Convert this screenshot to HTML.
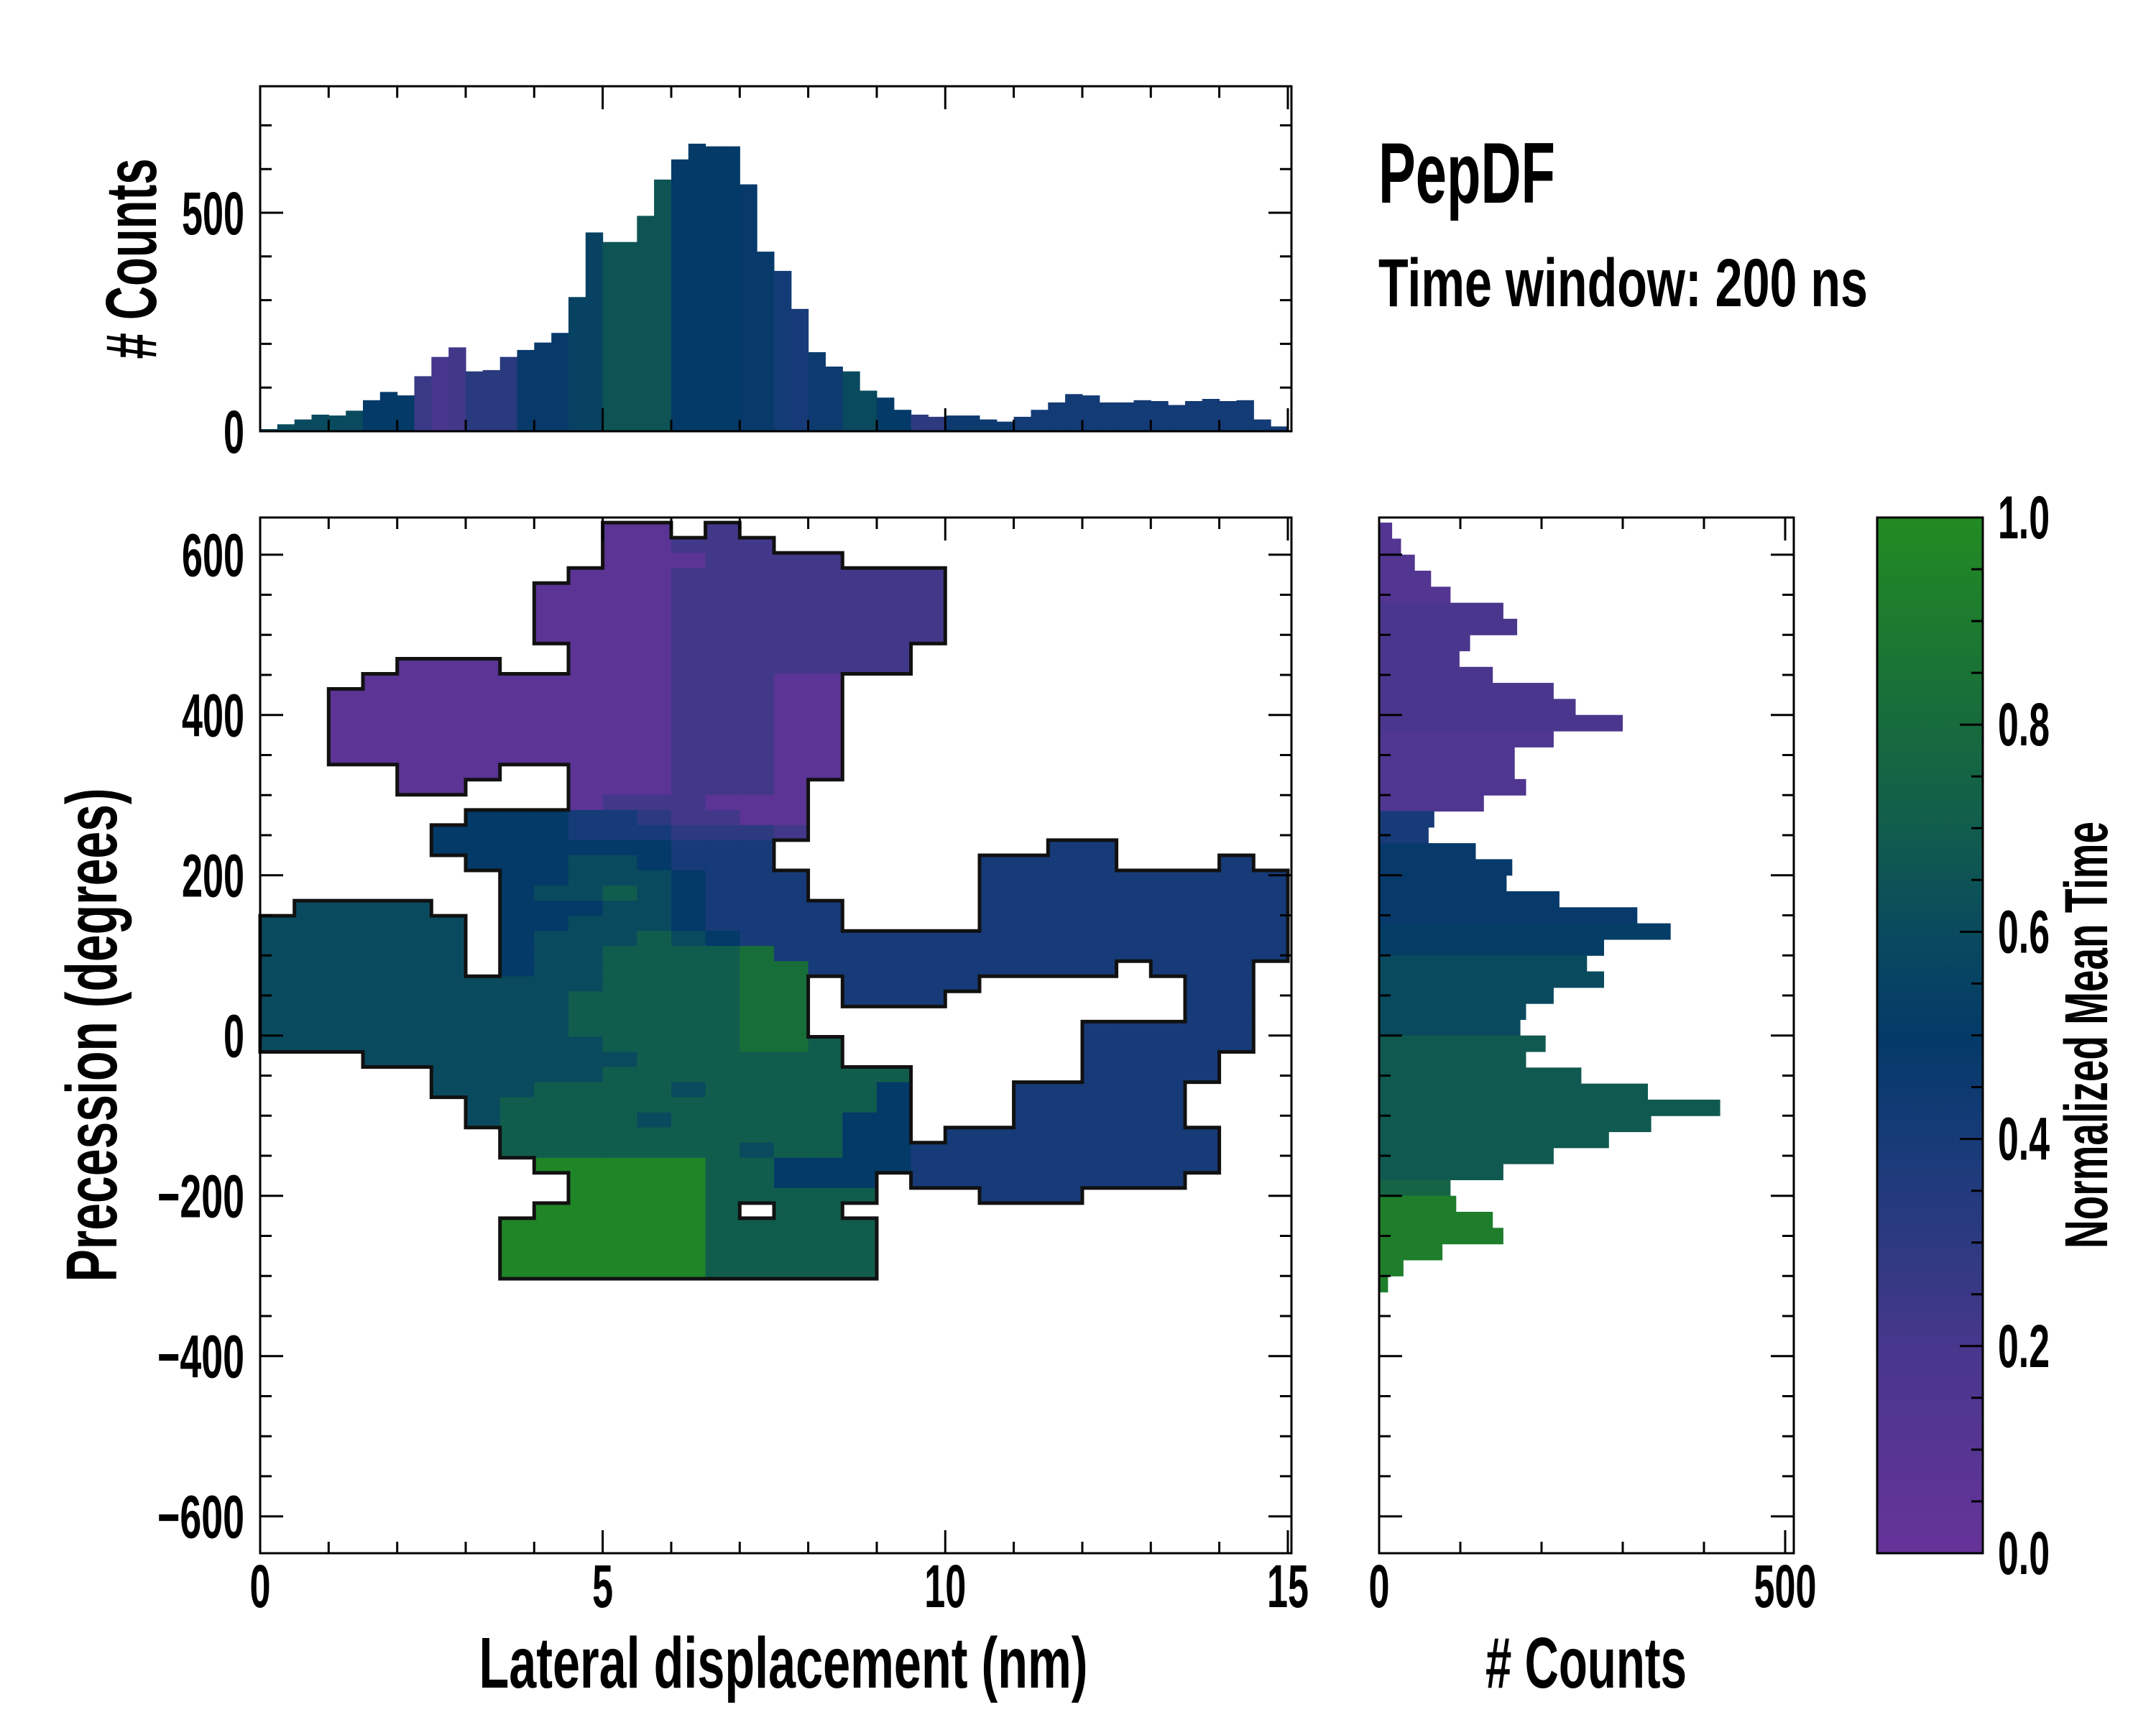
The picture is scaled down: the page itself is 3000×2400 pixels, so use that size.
<!DOCTYPE html>
<html><head><meta charset="utf-8"><style>
html,body{margin:0;padding:0;background:#fff}
svg{display:block}
text{font-family:"Liberation Sans Narrow","Liberation Sans",sans-serif;font-weight:bold;fill:#000}
</style></head><body>
<svg id="fig" width="3000" height="2400" viewBox="0 0 3000 2400" xmlns="http://www.w3.org/2000/svg">
<defs>
<linearGradient id="cbgrad" x1="0" y1="1" x2="0" y2="0"></linearGradient>
<clipPath id="mainclip"><rect x="362" y="720" width="1435" height="1441"/></clipPath>
</defs>
<rect width="3000" height="2400" fill="#fff"/>
<g id="heat" clip-path="url(#mainclip)"></g>
<path id="outline" fill="none" stroke="#111" stroke-width="5" stroke-linecap="square"/>
<g id="tophist"></g>
<g id="righthist"></g>
<g id="axes"></g>
<g id="labels"></g>
</svg>
<script>
// ---- data ----
const heatRows = [
"..........11.2................",
"..........11222...............",
"..........1112222.............",
".........11122222222..........",
"........111122222222..........",
"........111122222222..........",
"........111122222222..........",
"........111122222222..........",
".........1112222222...........",
"....111..1112222222...........",
"...11111111122211.............",
"..111111111122211.............",
"..111111111122211.............",
"..111111111122211.............",
"..111111111122211.............",
"..111111111122211.............",
"....111..11122211.............",
"....11...1112221..............",
".........1222111..............",
"......5554432211..............",
".....55554443332..............",
".....5555555444........44.....",
"......555665444......4444...4.",
".......556665444.....444444444",
".......566765444.....444444444",
".6666..5556654444....444444444",
"666666." + "55" + "6665" + "4444" + "...." + "444444444",
"666666." + "56" + "6676" + "5444" + "4444" + "444444444",
"666666." + "56" + "6777" + "7844" + "4444" + "444444444",
"666666." + "56" + "6777" + "7884" + "4444" + "4444" + "." + "444" + ".",
"6666666" + "66" + "6777" + "788" + "." + "4444" + "......" + "44" + ".",
"6666666" + "66" + "7777" + "788" + "." + "444" + "......." + "44" + ".",
"6666666" + "66" + "7777" + "788" + "..........." + "44" + ".",
"6666666" + "66" + "7777" + "788" + "........" + "44444" + ".",
"6666666" + "66" + "6777" + "7887" + "......." + "44444" + ".",
"..." + "6666" + "66" + "6677" + "7777" + "......." + "4444" + "..",
"....." + "66" + "66" + "6777" + "7777" + "77" + "....." + "4444" + "..",
"....." + "66" + "67" + "7776" + "7777" + "75" + "..." + "44444" + "...",
"......" + "6" + "77" + "7777" + "7777" + "75" + "..." + "44444" + "...",
"......" + "6" + "77" + "7767" + "7777" + "55" + "..." + "44444" + "...",
"......." + "77" + "7777" + "7777" + "55" + "." + "44444444" + "..",
"......." + "77" + "7777" + "7677" + "55" + "4" + "44444444" + "..",
"........" + "9" + "9999" + "7755" + "55" + "4" + "44444444" + "..",
"........." + "9999" + "7755" + "5" + "." + "44444444" + "...",
"........." + "9999" + "7777" + "7" + "..." + "444" + "......",
"........" + "99999" + "7.77" + ".............",
"......." + "999999" + "77777" + "............",
"......." + "999999" + "77777" + "............",
"......." + "999999" + "77777" + "............",
"......." + "999999" + "77777" + "............"
];
const levelOf = {"1":0.07,"2":0.22,"3":0.3,"4":0.4,"5":0.5,"6":0.6,"7":0.7,"8":0.82,"9":0.96};
const heatColStart = 0, heatColWidth = 0.5;    // nm
const heatRowTop = 640, heatRowHeight = 18.87; // degrees

const topCounts = [5,16,27,38,36,47,71,90,82,126,170,192,137,140,170,186,203,225,307,455,433,433,493,576,622,658,652,652,565,411,367,280,181,148,137,93,77,49,38,33,36,36,27,22,33,49,66,85,82,66,66,71,69,60,69,74,69,71,27,11];
const topLevels = [0.6,0.6,0.6,0.6,0.6,0.6,0.5,0.5,0.5,0.25,0.2,0.22,0.32,0.32,0.32,0.48,0.48,0.48,0.55,0.55,0.65,0.65,0.65,0.65,0.5,0.5,0.5,0.5,0.48,0.48,0.42,0.4,0.45,0.45,0.6,0.6,0.5,0.5,0.3,0.3,0.45,0.45,0.45,0.45,0.42,0.42,0.42,0.42,0.42,0.42,0.42,0.42,0.42,0.42,0.42,0.42,0.42,0.42,0.42,0.42];
const topBinWidth = 0.25;

const rightCounts = [16,27,44,64,88,153,170,112,99,140,215,242,300,215,167,167,181,129,68,61,119,164,157,222,318,359,277,256,277,215,181,174,205,181,249,331,420,335,283,215,153,88,95,140,153,78,30,11];
const rightLevels = [0.12,0.12,0.12,0.12,0.12,0.18,0.18,0.18,0.18,0.18,0.18,0.18,0.18,0.15,0.15,0.15,0.15,0.15,0.4,0.4,0.48,0.48,0.48,0.48,0.48,0.52,0.52,0.6,0.6,0.6,0.6,0.6,0.68,0.68,0.68,0.68,0.68,0.68,0.68,0.68,0.68,0.75,0.92,0.92,0.92,0.92,0.92,0.92];
const rightBinTop = 640, rightBinHeight = 20;

const mainXTicks = [0,5,10,15];
const mainXTickLabels = ["0","5","10","15"];
const mainYTicks = [600,400,200,0,-200,-400,-600];
const mainYTickLabels = ["600","400","200","0","\u2212200","\u2212400","\u2212600"];
const topYTicks = [0,500];
const topYTickLabels = ["0","500"];
const rightXTicks = [0,500];
const rightXTickLabels = ["0","500"];
const cbTicks = [0,0.2,0.4,0.6,0.8,1.0];
const cbTickLabels = ["0.0","0.2","0.4","0.6","0.8","1.0"];

// colormap stops
const cmapPos = [0.0,0.2,0.3,0.4,0.5,0.6,0.7,0.8,1.0];
const cmapCol = ["#66339a","#47378c","#2d3a80","#173b78","#033a68","#0a4a5e","#115d4d","#176b3c","#228b22"];

// ---- scales ----
const XL = 362, XR = 1797;
const X = nm => XL + nm*95.33;
const Y = d => 1440.7 - d*1.115;
const TY = c => 600 - c*0.608;
const RX = c => 1919 + c*1.13;
const CBY = v => 2161 - v*1441;

function hex(c){return [parseInt(c.slice(1,3),16),parseInt(c.slice(3,5),16),parseInt(c.slice(5,7),16)];}
function cmap(v){
  v=Math.max(0,Math.min(1,v));
  for(let i=0;i<cmapPos.length-1;i++){
    if(v<=cmapPos[i+1]){
      const t=(v-cmapPos[i])/(cmapPos[i+1]-cmapPos[i]);
      const a=hex(cmapCol[i]),b=hex(cmapCol[i+1]);
      return "rgb("+a.map((x,k)=>Math.round(x+(b[k]-x)*t)).join(",")+")";
    }
  }
  return cmapCol[cmapCol.length-1];
}
const NS="http://www.w3.org/2000/svg";
function mk(tag,attrs,parent){const e=document.createElementNS(NS,tag);for(const k in attrs)e.setAttribute(k,attrs[k]);parent.appendChild(e);return e;}

const grad=document.getElementById('cbgrad');
cmapPos.forEach((p,i)=>{const s=document.createElementNS(NS,'stop');s.setAttribute('offset',p);s.setAttribute('stop-color',cmapCol[i]);grad.appendChild(s);});

// ---- heatmap ----
const heat=document.getElementById('heat');
const grid=heatRows.map(r=>(r+"..............................").slice(0,30));
const filled=(i,j)=>i>=0&&i<grid.length&&j>=0&&j<30&&grid[i][j]!==".";
let od="";
grid.forEach((row,i)=>{
  const dTop=heatRowTop-i*heatRowHeight, dBot=dTop-heatRowHeight;
  for(let j=0;j<30;j++){
    if(row[j]==='.') continue;
    const x0=X(heatColStart+j*heatColWidth), x1=X(heatColStart+(j+1)*heatColWidth);
    const y0=Y(dTop), y1=Y(dBot);
    const r=mk('rect',{x:x0.toFixed(1),y:y0.toFixed(1),width:(x1-x0+0.6).toFixed(1),height:(y1-y0+0.6).toFixed(1),fill:cmap(levelOf[row[j]])},heat);
    
    
    if(!filled(i-1,j)) od+=`M${x0.toFixed(1)} ${y0.toFixed(1)}L${x1.toFixed(1)} ${y0.toFixed(1)}`;
    if(!filled(i+1,j)) od+=`M${x0.toFixed(1)} ${y1.toFixed(1)}L${x1.toFixed(1)} ${y1.toFixed(1)}`;
    if(!filled(i,j-1)) od+=`M${x0.toFixed(1)} ${y0.toFixed(1)}L${x0.toFixed(1)} ${y1.toFixed(1)}`;
    if(!filled(i,j+1)) od+=`M${x1.toFixed(1)} ${y0.toFixed(1)}L${x1.toFixed(1)} ${y1.toFixed(1)}`;
  }
});
document.getElementById('outline').setAttribute('d',od);

// ---- top histogram ----
const th=document.getElementById('tophist');
topCounts.forEach((c,i)=>{
  const x0=X(i*topBinWidth),x1=X((i+1)*topBinWidth);
  const r=mk('rect',{x:x0.toFixed(1),y:TY(c).toFixed(1),width:(x1-x0+0.6).toFixed(1),height:(TY(0)-TY(c)).toFixed(1),fill:cmap(topLevels[i])},th);
  
  
});

// ---- right histogram ----
const rh=document.getElementById('righthist');
rightCounts.forEach((c,i)=>{
  const d0=rightBinTop-i*rightBinHeight,d1=d0-rightBinHeight;
  const r=mk('rect',{x:RX(0),y:Y(d0).toFixed(1),width:(RX(c)-RX(0)).toFixed(1),height:(Y(d1)-Y(d0)+0.6).toFixed(1),fill:cmap(rightLevels[i])},rh);
  
  
});

// ---- axes ----
const ax=document.getElementById('axes');
function frame(x,y,w,h,name){const r=mk('rect',{x:x,y:y,width:w,height:h,fill:'none',stroke:'#000','stroke-width':3},ax);}
let td="";
frame(XL,720,XR-XL,1441,'main-plot-frame');
for(let n=0;n<=15;n++){const L=n%5===0?32:16;const x=X(n).toFixed(1);td+=`M${x} 2161l0 ${-L}M${x} 720l0 ${L}`;}
for(let d=-600;d<=600;d+=50){const L=d%200===0?32:16;const y=Y(d).toFixed(1);td+=`M${XL} ${y}l${L} 0M${XR} ${y}l${-L} 0`;}
frame(XL,120,XR-XL,480,'top-hist-frame');
for(let n=0;n<=15;n++){const L=n%5===0?32:16;const x=X(n).toFixed(1);td+=`M${x} 600l0 ${-L}M${x} 120l0 ${L}`;}
for(let c=0;c<=700;c+=100){const L=c%500===0?32:16;const y=TY(c).toFixed(1);td+=`M${XL} ${y}l${L} 0M${XR} ${y}l${-L} 0`;}
frame(1919,720,577,1441,'right-hist-frame');
for(let c=0;c<=500;c+=100){const L=c%500===0?32:16;const x=RX(c).toFixed(1);td+=`M${x} 2161l0 ${-L}M${x} 720l0 ${L}`;}
for(let d=-600;d<=600;d+=50){const L=d%200===0?32:16;const y=Y(d).toFixed(1);td+=`M1919 ${y}l${L} 0M2496 ${y}l${-L} 0`;}
const cb=mk('rect',{x:2612,y:720,width:147,height:1441,fill:'url(#cbgrad)',stroke:'#000','stroke-width':3},ax);


for(let k=0;k<=20;k++){const v=k*0.05;const L=(k%4===0)?32:16;const y=CBY(v).toFixed(1);td+=`M2759 ${y}l${-L} 0`;}
const tp=mk('path',{d:td,stroke:'#000','stroke-width':3,fill:'none'},ax);



// ---- labels ----
const lb=document.getElementById('labels');
function cw(s){let w=0;for(const ch of s){w+= ch==='.'?14:(ch==='\u2212'?34:29);}return w;}
function txt(s,x,y,size,anchor,name,len,rot){
  const a={x:x,y:y,'font-size':size,'text-anchor':anchor};
  if(len){a.textLength=len;a.lengthAdjust='spacingAndGlyphs';}
  if(rot)a.transform=`rotate(-90 ${x} ${y})`;
  const t=mk('text',a,lb);t.textContent=s;
  
  
  return t;
}
mainXTicks.forEach((v,i)=>txt(mainXTickLabels[i],X(v),2236,84,'middle','x-tick-label',cw(mainXTickLabels[i])));
mainYTicks.forEach((v,i)=>txt(mainYTickLabels[i],340,Y(v)+30,84,'end','y-tick-label',cw(mainYTickLabels[i])));
topYTicks.forEach((v,i)=>txt(topYTickLabels[i],340,TY(v)+30,84,'end','top-hist-y-tick-label',cw(topYTickLabels[i])));
rightXTicks.forEach((v,i)=>txt(rightXTickLabels[i],RX(v),2236,84,'middle','right-hist-x-tick-label',cw(rightXTickLabels[i])));
cbTicks.forEach((v,i)=>txt(cbTickLabels[i],2780,CBY(v)+29,84,'start','colorbar-tick-label',cw(cbTickLabels[i])));
txt('Lateral displacement (nm)',1090,2348,100,'middle','x-axis-title',847);
txt('Precession (degrees)',162,1440,100,'middle','y-axis-title',687,true);
txt('# Counts',217,360,100,'middle','top-hist-y-title',279,true);
txt('# Counts',2207,2348,100,'middle','right-hist-x-title',280);
txt('Normalized Mean Time',2932,1440,84,'middle','colorbar-title',594,true);
txt('PepDF',1918,282,120,'start','plot-title',246);
txt('Time window: 200 ns',1918,426,95,'start','time-window-subtitle',681);
</script>
</body></html>
